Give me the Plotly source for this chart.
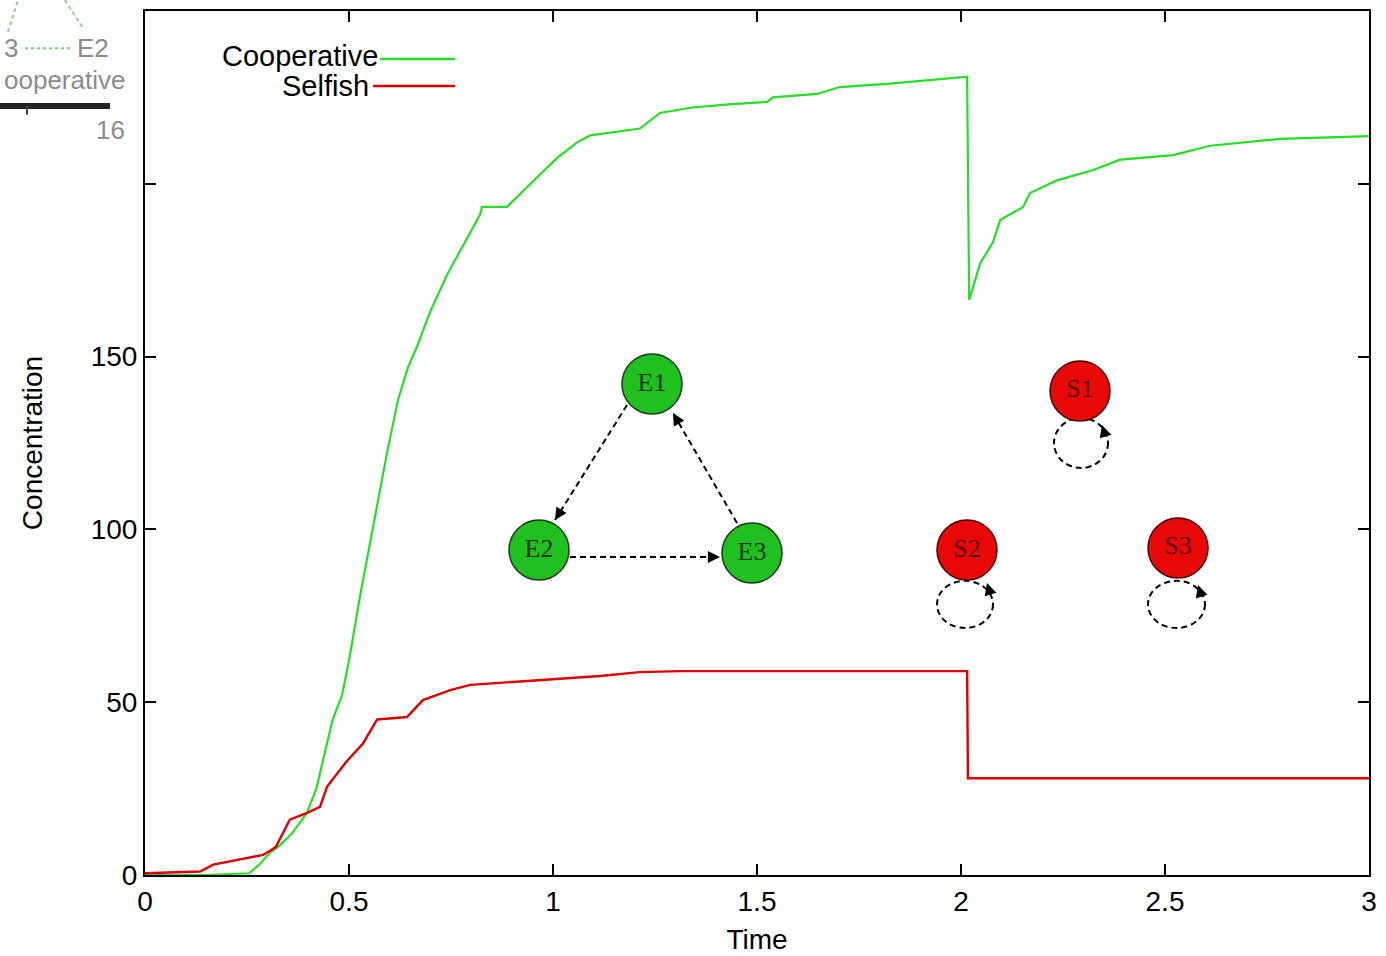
import plotly.graph_objects as go

# ---------------- data ----------------
coop_t = [0.0, 0.15, 0.255, 0.265, 0.28, 0.306, 0.33, 0.36, 0.397, 0.42, 0.44, 0.46, 0.483, 0.50,
          0.527, 0.55, 0.569, 0.593, 0.620, 0.645, 0.667, 0.699, 0.740, 0.789, 0.821, 0.826, 0.887,
          0.936, 0.97, 1.01, 1.059, 1.091, 1.213, 1.262, 1.336, 1.43, 1.525, 1.539, 1.647, 1.703,
          1.826, 1.92, 2.005, 2.015, 2.020, 2.047, 2.078, 2.096, 2.152, 2.169, 2.235, 2.324, 2.390,
          2.520, 2.610, 2.782, 3.0]
coop_v = [0.0, 0.0, 0.5, 1.4, 3.0, 6.4, 8.5, 12.0, 18.0, 25.0, 35.0, 45.0, 52.0, 62.0,
          80.7, 95.0, 106.5, 122.0, 137.4, 147.0, 153.0, 163.0, 173.6, 184.0, 191.0, 193.3, 193.3,
          199.0, 203.0, 207.5, 212.0, 214.0, 216.0, 220.5, 222.0, 223.0, 223.7, 225.0, 226.0, 228.0,
          229.0, 230.0, 231.0, 231.0, 166.4, 177.0, 183.0, 189.5, 193.3, 197.3, 201.0, 204.0, 207.0,
          208.3, 211.0, 213.0, 213.8]

self_t = [0.0, 0.098, 0.135, 0.167, 0.20, 0.25, 0.289, 0.32, 0.355, 0.397, 0.429, 0.446, 0.495,
          0.534, 0.569, 0.642, 0.681, 0.748, 0.797, 0.919, 1.017, 1.115, 1.213, 1.311, 2.015, 2.017, 3.0]
self_v = [0.5, 1.0, 1.0, 3.0, 3.8, 5.0, 5.8, 8.0, 16.0, 18.0, 19.7, 25.5, 33.0,
          38.0, 45.0, 45.7, 50.6, 53.5, 55.0, 56.0, 56.7, 57.6, 58.7, 59.0, 59.0, 28.0, 28.0]

series_names = ["Cooperative", "Selfish"]
x_tick_vals = [0, 0.5, 1, 1.5, 2, 2.5, 3]
x_tick_text = ["0", "0.5", "1", "1.5", "2", "2.5", "3"]
y_tick_vals = [0, 50, 100, 150, 200, 250]
y_tick_text = ["0", "50", "100", "150", "", ""]

# network inset (nodes placed in data units)
coop_nodes = ["E1", "E2", "E3"]
coop_node_t = [1.2426, 0.9657, 1.4877]
coop_node_v = [142.07, 94.04, 93.17]
self_nodes = ["S1", "S2", "S3"]
self_node_t = [2.2917, 2.0147, 2.5319]
self_node_v = [140.05, 94.04, 94.62]

GREEN = "rgb(38,222,38)"
RED = "rgb(222,0,0)"
FONT = "Liberation Sans, Arial, sans-serif"
SERIF = "Liberation Serif, Times New Roman, serif"

fig = go.Figure()
fig.add_trace(go.Scatter(x=coop_t, y=coop_v, mode="lines", name=series_names[0],
                         line=dict(color=GREEN, width=2.2), showlegend=False))
fig.add_trace(go.Scatter(x=self_t, y=self_v, mode="lines", name=series_names[1],
                         line=dict(color=RED, width=2.4), showlegend=False))

# nodes
fig.add_trace(go.Scatter(x=coop_node_t, y=coop_node_v, mode="markers+text", text=coop_nodes,
                         textposition="middle center",
                         textfont=dict(family=SERIF, size=26, color="#1e3a1e"),
                         marker=dict(size=60, color="rgb(32,192,32)", line=dict(color="#1a3a1a", width=1.5)),
                         showlegend=False, hoverinfo="skip"))
fig.add_trace(go.Scatter(x=self_node_t, y=self_node_v, mode="markers+text", text=self_nodes,
                         textposition="middle center",
                         textfont=dict(family=SERIF, size=26, color="#5a0000"),
                         marker=dict(size=60, color="rgb(232,8,8)", line=dict(color="#4a0000", width=1.5)),
                         showlegend=False, hoverinfo="skip"))

DASH = "6px,4px"
shapes = []
annotations = []

# cooperative cycle edges (tail -> head)
edges = [((1.1814, 136.0), (1.0049, 102.7), (6.9, -11.0)),
         ((1.0417, 92.0), (1.4093, 92.0), (-13, 0)),
         ((1.451, 101.85), (1.2941, 133.68), (6.5, 11.2))]
for (t0, v0), (t1, v1), (ax, ay) in edges:
    shapes.append(dict(type="line", xref="x", yref="y", x0=t0, y0=v0, x1=t1, y1=v1,
                       line=dict(color="black", width=2, dash=DASH), layer="below"))
    annotations.append(dict(x=t1, y=v1, xref="x", yref="y", ax=ax, ay=ay, text="",
                            showarrow=True, arrowhead=2, arrowsize=1.1, arrowwidth=2.2,
                            arrowcolor="black"))

# selfish self-loops
loops = [((2.2279, 117.77, 2.3603, 132.23), (2.3456, 130.2)),
         ((1.9412, 71.47, 2.0784, 85.13), (2.0637, 84.5)),
         ((2.4583, 71.47, 2.5980, 85.13), (2.5810, 83.9))]
for (x0, y0, x1, y1), (ht, hv) in loops:
    shapes.append(dict(type="circle", xref="x", yref="y", x0=x0, y0=y0, x1=x1, y1=y1,
                       line=dict(color="black", width=2, dash=DASH), layer="below"))
    annotations.append(dict(x=ht, y=hv, xref="x", yref="y", ax=4, ay=13, text="",
                            showarrow=True, arrowhead=2, arrowsize=1.1, arrowwidth=2.2,
                            arrowcolor="black"))

# gnuplot-style key (text right, sample line after it)
shapes.append(dict(type="line", xref="paper", yref="paper", x0=0.192, x1=0.2533, y0=0.9444, y1=0.9444,
                   line=dict(color=GREEN, width=2.5)))
shapes.append(dict(type="line", xref="paper", yref="paper", x0=0.1863, x1=0.2533, y0=0.9132, y1=0.9132,
                   line=dict(color=RED, width=2.5)))
annotations.append(dict(x=0.192, y=0.9480, xref="paper", yref="paper", text=series_names[0],
                        showarrow=False, xanchor="right", yanchor="middle",
                        font=dict(family=FONT, size=29, color="black")))
annotations.append(dict(x=0.1846, y=0.9130, xref="paper", yref="paper", text=series_names[1],
                        showarrow=False, xanchor="right", yanchor="middle",
                        font=dict(family=FONT, size=29, color="black")))

# faded fragment of an overlapping image in the top-left corner
GHOST = "#8c8c8c"
shapes.append(dict(type="line", xref="paper", yref="paper", x0=-0.112, y0=0.9757, x1=-0.1038, y1=1.0127,
                   line=dict(color="rgb(150,210,150)", width=2, dash="4px,3px")))
shapes.append(dict(type="line", xref="paper", yref="paper", x0=-0.0654, y0=1.0127, x1=-0.0507, y1=0.9803,
                   line=dict(color="rgb(150,210,150)", width=2, dash="4px,3px")))
shapes.append(dict(type="line", xref="paper", yref="paper", x0=-0.098, y0=0.957, x1=-0.0596, y1=0.957,
                   line=dict(color="rgb(130,200,130)", width=2, dash="3px,3px")))
shapes.append(dict(type="line", xref="paper", yref="paper", x0=-0.125, y0=0.890, x1=-0.0286, y1=0.890,
                   line=dict(color="#222", width=6)))
shapes.append(dict(type="line", xref="paper", yref="paper", x0=-0.0964, y0=0.890, x1=-0.0964, y1=0.880,
                   line=dict(color="#444", width=2)))
annotations.append(dict(x=-0.1021, y=0.957, xref="paper", yref="paper", text="3", showarrow=False,
                        xanchor="right", yanchor="middle", font=dict(family=FONT, size=26, color=GHOST)))
annotations.append(dict(x=-0.0278, y=0.957, xref="paper", yref="paper", text="E2", showarrow=False,
                        xanchor="right", yanchor="middle", font=dict(family=FONT, size=26, color=GHOST)))
annotations.append(dict(x=-0.0147, y=0.920, xref="paper", yref="paper", text="ooperative", showarrow=False,
                        xanchor="right", yanchor="middle", font=dict(family=FONT, size=26, color=GHOST)))
annotations.append(dict(x=-0.0147, y=0.862, xref="paper", yref="paper", text="16", showarrow=False,
                        xanchor="right", yanchor="middle", font=dict(family=FONT, size=26, color=GHOST)))

axis_common = dict(showgrid=False, zeroline=False, showline=True, linecolor="black", linewidth=2,
                   mirror="ticks", ticks="inside", ticklen=11, tickwidth=2, tickcolor="black",
                   automargin=False,
                   tickfont=dict(family=FONT, size=28, color="black"))

fig.update_layout(
    width=1386, height=956,
    margin=dict(l=145, r=17, t=11, b=81, pad=0),
    plot_bgcolor="white", paper_bgcolor="white",
    shapes=shapes, annotations=annotations,
    xaxis=dict(range=[0, 3], tickvals=x_tick_vals, ticktext=x_tick_text,
               title=dict(text="Time", font=dict(family=FONT, size=28, color="black"), standoff=14),
               **axis_common),
    yaxis=dict(range=[0, 250], tickvals=y_tick_vals, ticktext=y_tick_text,
               title=dict(text="Concentration", font=dict(family=FONT, size=28, color="black"), standoff=40),
               **axis_common),
    showlegend=False,
)

fig.write_html("out.html")
